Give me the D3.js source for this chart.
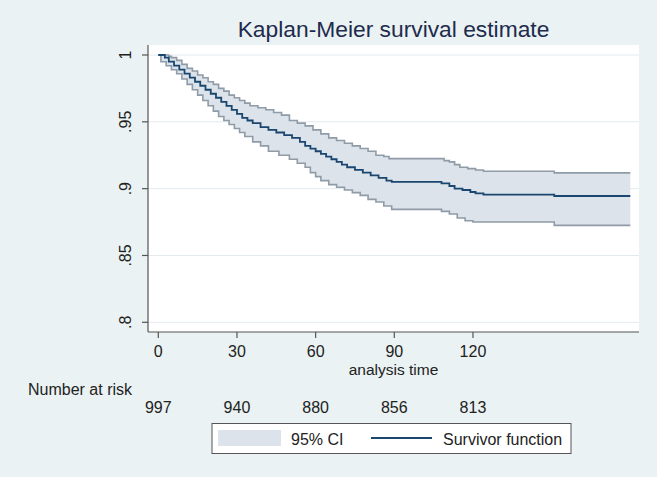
<!DOCTYPE html>
<html><head><meta charset="utf-8">
<script src="https://cdn.jsdelivr.net/npm/d3@7"></script>
<style>
html,body{margin:0;padding:0;background:#eaf2f3;}
svg{display:block;font-family:"Liberation Sans",Arial,sans-serif;}
</style></head>
<body>
<svg id="chart" width="657" height="477"></svg>
<script>
// Kaplan-Meier survivor function (time in days, step values)
const survTime = [0,2.5,4,6,8,10,12,14,16,18,20,22,24,26,28,30,32,34,36,39,42,45,48,51,54,56,58,60,62,64,66,68,70,72,75,78,81,84,87,89,108,111,113,116,119,121,124,151];
const survVal  = [1,0.998,0.995,0.992,0.989,0.986,0.983,0.980,0.977,0.974,0.971,0.968,0.965,0.962,0.959,0.956,0.953,0.951,0.949,0.946,0.944,0.942,0.940,0.938,0.935,0.932,0.930,0.928,0.926,0.924,0.922,0.920,0.918,0.916,0.914,0.912,0.910,0.908,0.906,0.905,0.904,0.902,0.900,0.899,0.8975,0.8965,0.8955,0.8945];
// Upper 95% CI
const upperTime = [0,4,5,7,9,11,13,15,17,19,21,23,25,27,29,31,33,35,38,41,44,47,50,53,56,59,62,65,68,71,74,77,80,83,86,88,109,111,113,115,118,121,124,151];
const upperVal  = [1,0.999,0.998,0.996,0.993,0.990,0.988,0.985,0.983,0.980,0.978,0.975,0.973,0.970,0.968,0.966,0.964,0.962,0.9605,0.959,0.957,0.955,0.951,0.949,0.947,0.944,0.941,0.938,0.936,0.934,0.932,0.930,0.928,0.925,0.924,0.9225,0.921,0.920,0.918,0.916,0.915,0.914,0.913,0.9118];
// Lower 95% CI
const lowerTime = [0,1,3,5,7,9,11,13,15,17,19,21,23,25,27,29,31,33,36,39,42,46,50,53,56,58,60,62,65,68,71,74,77,80,83,86,89,108,111,114,117,120,151];
const lowerVal  = [1,0.995,0.992,0.989,0.986,0.982,0.978,0.974,0.970,0.966,0.962,0.958,0.954,0.951,0.948,0.945,0.942,0.939,0.935,0.932,0.928,0.925,0.922,0.919,0.916,0.912,0.909,0.906,0.903,0.901,0.899,0.897,0.895,0.892,0.890,0.887,0.8845,0.883,0.881,0.878,0.876,0.875,0.8725];
const endTime = 180;

const xTicks = [0,30,60,90,120];
const yTicks = [0.8,0.85,0.9,0.95,1];
const yTickLabels = [".8",".85",".9",".95","1"];
const atRisk = [997,940,880,856,813];

const svg = d3.select("#chart");
const x = d3.scaleLinear().domain([0,180]).range([158.3,630.3]);
const y = d3.scaleLinear().domain([0.8,1]).range([322.3,55]);
const region = {left:148, right:639, top:45, bottom:332};

// plot region
svg.append("rect").attr("x",region.left).attr("y",region.top)
  .attr("width",region.right-region.left).attr("height",region.bottom-region.top).attr("fill","#ffffff");

// gridlines
svg.append("g").selectAll("line").data(yTicks).join("line")
  .attr("x1",region.left).attr("x2",region.right)
  .attr("y1",d=>y(d)).attr("y2",d=>y(d))
  .attr("stroke","#e3eaee").attr("stroke-width",1);

function stepAt(times, vals, t){
  const i = d3.bisectRight(times, t) - 1;
  return vals[Math.max(0,i)];
}
const allT = Array.from(new Set([...upperTime, ...lowerTime, endTime])).sort((a,b)=>a-b);
const band = allT.map(t=>({t, lo:stepAt(lowerTime,lowerVal,t), hi:stepAt(upperTime,upperVal,t)}));

svg.append("path").datum(band)
  .attr("d", d3.area().curve(d3.curveStepAfter).x(d=>x(d.t)).y0(d=>y(d.lo)).y1(d=>y(d.hi)))
  .attr("fill","#dce3ea").attr("stroke","none");

const lineGen = d3.line().curve(d3.curveStepAfter).x(d=>x(d[0])).y(d=>y(d[1]));
function series(times, vals){
  const pts = times.map((t,i)=>[t, vals[i]]);
  pts.push([endTime, vals[vals.length-1]]);
  return pts;
}
svg.append("path").datum(series(upperTime,upperVal)).attr("d",lineGen)
  .attr("fill","none").attr("stroke","#8f9ca8").attr("stroke-width",1.6);
svg.append("path").datum(series(lowerTime,lowerVal)).attr("d",lineGen)
  .attr("fill","none").attr("stroke","#8f9ca8").attr("stroke-width",1.6);
svg.append("path").datum(series(survTime,survVal)).attr("d",lineGen)
  .attr("fill","none").attr("stroke","#1a476f").attr("stroke-width",1.8);

// axes
const axisColor = "#555";
svg.append("line").attr("x1",region.left).attr("x2",region.left).attr("y1",region.top).attr("y2",region.bottom)
  .attr("stroke",axisColor).attr("stroke-width",1.2);
svg.append("line").attr("x1",region.left).attr("x2",region.right).attr("y1",region.bottom).attr("y2",region.bottom)
  .attr("stroke",axisColor).attr("stroke-width",1.2);

// y ticks
const yt = svg.append("g");
yt.selectAll("line").data(yTicks).join("line")
  .attr("x1",region.left-6).attr("x2",region.left).attr("y1",d=>y(d)).attr("y2",d=>y(d))
  .attr("stroke",axisColor).attr("stroke-width",1.2);
yt.selectAll("text").data(yTicks).join("text")
  .attr("transform",d=>`translate(131,${y(d)}) rotate(-90)`)
  .attr("text-anchor","middle").attr("font-size",16).attr("fill","#222")
  .text((d,i)=>yTickLabels[i]);

// x ticks
const xt = svg.append("g");
xt.selectAll("line").data(xTicks).join("line")
  .attr("x1",d=>x(d)).attr("x2",d=>x(d)).attr("y1",region.bottom).attr("y2",region.bottom+6)
  .attr("stroke",axisColor).attr("stroke-width",1.2);
xt.selectAll("text").data(xTicks).join("text")
  .attr("x",d=>x(d)).attr("y",357).attr("text-anchor","middle").attr("font-size",16).attr("fill","#222")
  .text(d=>d);

svg.append("text").attr("x",(region.left+region.right)/2).attr("y",374.5).attr("text-anchor","middle")
  .attr("font-size",15.5).attr("fill","#222").text("analysis time");

// title
svg.append("text").attr("x",(region.left+region.right)/2).attr("y",37).attr("text-anchor","middle")
  .attr("font-size",22.8).attr("fill","#1e2b4d").text("Kaplan-Meier survival estimate");

// number at risk
svg.append("text").attr("x",28).attr("y",395).attr("font-size",16).attr("fill","#222").text("Number at risk");
svg.append("g").selectAll("text").data(atRisk).join("text")
  .attr("x",(d,i)=>x(xTicks[i])).attr("y",413).attr("text-anchor","middle")
  .attr("font-size",16).attr("fill","#222").text(d=>d);

// legend
const lg = svg.append("g");
lg.append("rect").attr("x",212).attr("y",423.5).attr("width",359).attr("height",30)
  .attr("fill","#ffffff").attr("stroke","#555").attr("stroke-width",1);
lg.append("rect").attr("x",218).attr("y",430).attr("width",63).attr("height",16).attr("fill","#dce3ea");
lg.append("text").attr("x",291).attr("y",445).attr("font-size",16).attr("fill","#222").text("95% CI");
lg.append("line").attr("x1",371).attr("x2",432).attr("y1",438).attr("y2",438)
  .attr("stroke","#1a476f").attr("stroke-width",1.8);
lg.append("text").attr("x",443).attr("y",445).attr("font-size",16).attr("fill","#222").text("Survivor function");
</script>
</body></html>
